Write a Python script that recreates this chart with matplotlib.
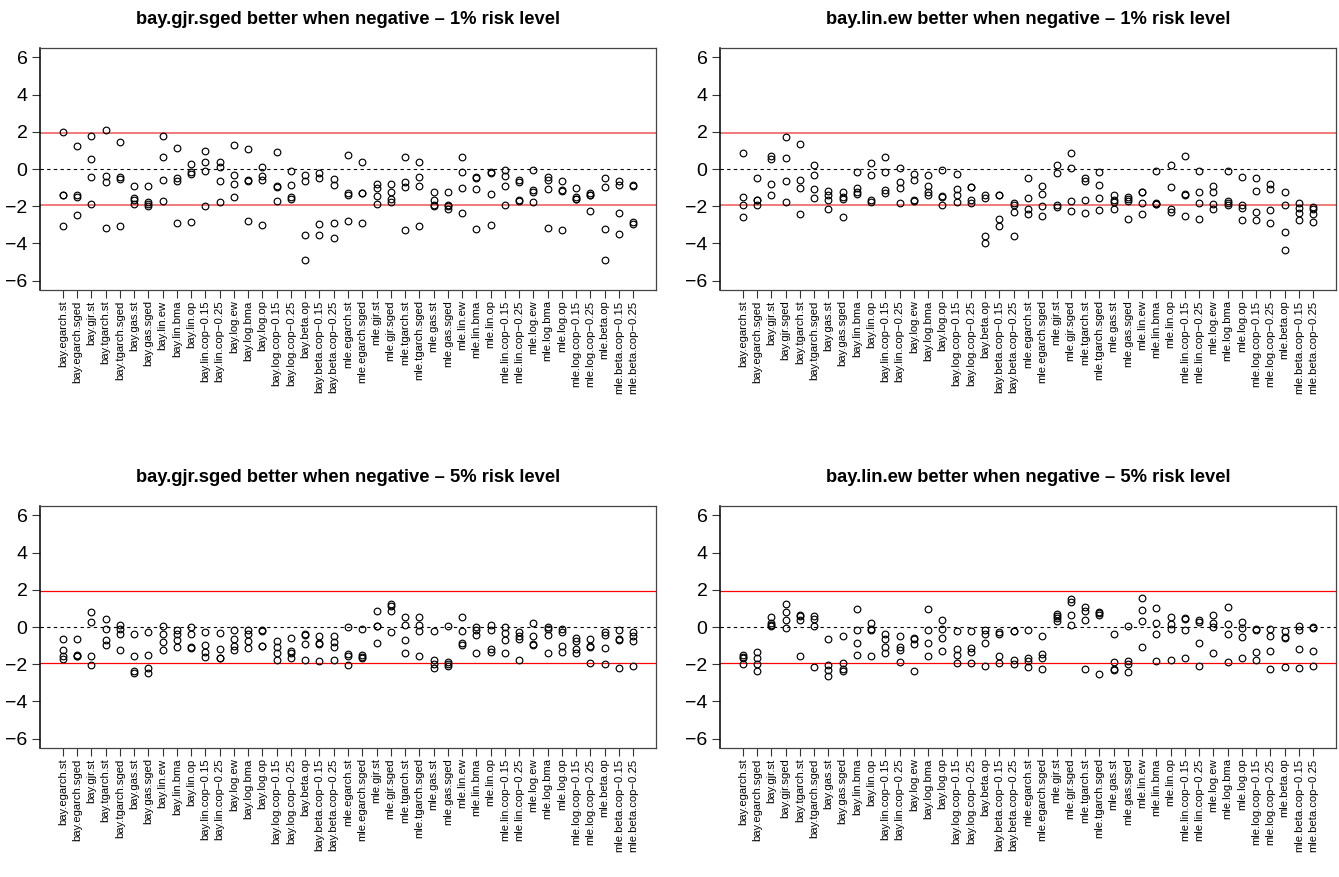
import matplotlib
matplotlib.use("Agg")
import matplotlib.pyplot as plt

plt.rcParams['font.family'] = ['Liberation Sans', 'DejaVu Sans']

all_models = ["bay.egarch.st", "bay.egarch.sged", "bay.gjr.st", "bay.gjr.sged",
              "bay.tgarch.st", "bay.tgarch.sged", "bay.gas.st", "bay.gas.sged",
              "bay.lin.ew", "bay.lin.bma", "bay.lin.op", "bay.lin.cop−0.15",
              "bay.lin.cop−0.25", "bay.log.ew", "bay.log.bma", "bay.log.op",
              "bay.log.cop−0.15", "bay.log.cop−0.25", "bay.beta.op",
              "bay.beta.cop−0.15", "bay.beta.cop−0.25", "mle.egarch.st",
              "mle.egarch.sged", "mle.gjr.st", "mle.gjr.sged", "mle.tgarch.st",
              "mle.tgarch.sged", "mle.gas.st", "mle.gas.sged", "mle.lin.ew",
              "mle.lin.bma", "mle.lin.op", "mle.lin.cop−0.15", "mle.lin.cop−0.25",
              "mle.log.ew", "mle.log.bma", "mle.log.op", "mle.log.cop−0.15",
              "mle.log.cop−0.25", "mle.beta.op", "mle.beta.cop−0.15",
              "mle.beta.cop−0.25"]

labels_gjr = [m for m in all_models if m != "bay.gjr.sged"]
labels_lin = [m for m in all_models if m != "bay.lin.ew"]

# test statistics, 4 series per model
gjr_1 = [[1.98, -1.42, -1.42, -3.08], [1.26, -1.37, -1.48, -2.47], [1.77, 0.52, -0.41, -1.86],
         [2.07, -0.40, -0.70, -3.19], [1.44, -0.43, -0.54, -3.08], [-0.94, -1.57, -1.69, -1.86],
         [-0.92, -1.75, -1.86, -1.98], [1.78, 0.67, -0.61, -1.73], [1.14, -0.50, -0.67, -2.92],
         [0.25, -0.18, -0.25, -2.86], [0.99, 0.36, -0.09, -2.00], [0.38, 0.13, -0.63, -1.77],
         [1.30, -0.34, -0.83, -1.50], [1.05, -0.61, -0.67, -2.77], [0.09, -0.38, -0.59, -3.03],
         [0.92, -0.90, -0.95, -1.71], [-0.13, -0.88, -1.48, -1.59], [-0.32, -0.65, -3.53, -4.88],
         [-0.20, -0.47, -2.95, -3.53], [-0.52, -0.88, -2.90, -3.71], [0.74, -1.28, -1.42, -2.79],
         [0.38, -1.28, -1.30, -2.92], [-0.81, -1.03, -1.44, -1.86], [-0.81, -1.23, -1.59, -1.77],
         [0.65, -0.72, -0.97, -3.28], [0.38, -0.45, -0.90, -3.08], [-1.24, -1.66, -1.91, -2.00],
         [-1.23, -1.91, -1.98, -2.16], [0.65, -0.18, -1.01, -2.36], [-0.41, -0.47, -1.08, -3.24],
         [-0.18, -0.22, -1.33, -3.03], [-0.05, -0.40, -0.90, -1.93], [-0.59, -0.70, -1.66, -1.73],
         [-0.07, -1.14, -1.24, -1.77], [-0.43, -0.58, -1.08, -3.15], [-0.63, -1.15, -1.17, -3.30],
         [-1.03, -1.51, -1.60, -1.62], [-1.30, -1.41, -1.42, -2.25], [-0.49, -0.97, -3.21, -4.88],
         [-0.63, -0.88, -2.36, -3.48], [-0.88, -0.92, -2.86, -2.97]]

lin_1 = [[0.86, -1.53, -1.93, -2.56], [-0.47, -1.64, -1.69, -1.91], [0.70, 0.56, -0.79, -1.39],
         [1.73, 0.61, -0.67, -1.77], [1.32, -0.61, -1.03, -2.43], [0.23, -0.32, -1.05, -1.57],
         [-1.19, -1.42, -1.66, -2.14], [-1.24, -1.53, -1.62, -2.59], [-0.18, -1.01, -1.26, -1.35],
         [0.34, -0.31, -1.69, -1.77], [0.67, -0.16, -1.15, -1.28], [0.05, -0.72, -1.03, -1.80],
         [-0.27, -0.59, -1.66, -1.73], [-0.34, -0.94, -1.21, -1.37], [-0.05, -1.44, -1.53, -1.95],
         [-0.25, -1.06, -1.37, -1.77], [-0.95, -0.99, -1.69, -1.80], [-1.41, -1.57, -3.59, -3.95],
         [-1.39, -1.41, -2.68, -3.08], [-1.80, -1.91, -2.32, -3.60], [-0.47, -1.55, -2.16, -2.41],
         [-0.94, -1.33, -2.00, -2.52], [0.23, -0.20, -1.96, -2.04], [0.88, 0.04, -1.71, -2.25],
         [-0.50, -0.63, -1.66, -2.34], [-0.18, -0.88, -1.57, -2.20], [-1.42, -1.69, -1.75, -2.13],
         [-1.50, -1.62, -1.73, -2.67], [-1.21, -1.26, -1.82, -2.40], [-0.09, -1.80, -1.86, -1.86],
         [0.23, -0.99, -2.13, -2.32], [0.70, -1.32, -1.41, -2.54], [-0.09, -1.21, -1.80, -2.67],
         [-0.90, -1.26, -1.86, -2.14], [-0.11, -1.73, -1.80, -1.91], [-0.41, -1.91, -2.09, -2.72],
         [-0.49, -1.17, -2.29, -2.76], [-0.81, -1.08, -2.22, -2.88], [-1.23, -1.95, -3.37, -4.34],
         [-1.80, -2.07, -2.34, -2.76], [-2.02, -2.16, -2.41, -2.83]]

gjr_5 = [[-0.65, -1.22, -1.55, -1.73], [-0.67, -1.53, -1.56, -1.58], [0.78, 0.25, -1.55, -2.05],
         [0.44, -0.13, -0.69, -0.98], [0.09, -0.11, -0.38, -1.24], [-0.40, -1.58, -2.36, -2.45],
         [-0.29, -1.49, -2.20, -2.47], [0.05, -0.36, -0.82, -1.24], [-0.15, -0.36, -0.69, -1.07],
         [0.00, -0.36, -1.07, -1.13], [-0.25, -0.96, -1.33, -1.60], [-0.31, -1.18, -1.64, -1.69],
         [-0.15, -0.67, -1.02, -1.22], [-0.15, -0.36, -0.75, -1.11], [-0.15, -0.20, -1.00, -1.04],
         [-0.76, -1.05, -1.42, -1.75], [-0.60, -1.31, -1.38, -1.64], [-0.38, -0.44, -0.89, -1.78],
         [-0.49, -0.87, -0.91, -1.85], [-0.47, -0.78, -1.05, -1.78], [-0.02, -1.44, -1.58, -2.02],
         [-0.13, -1.53, -1.60, -1.64], [0.87, 0.07, 0.04, -0.87], [1.22, 1.15, 0.84, -0.27],
         [0.55, 0.11, -0.69, -1.40], [0.53, 0.11, -0.20, -1.55], [-0.24, -1.76, -1.98, -2.22],
         [0.05, -1.89, -2.00, -2.07], [0.53, -0.24, -0.85, -0.98], [-0.02, -0.16, -0.44, -1.38],
         [0.11, -0.15, -1.16, -1.35], [0.00, -0.31, -0.69, -1.42], [-0.29, -0.49, -0.67, -1.75],
         [0.24, -0.51, -0.91, -0.96], [0.02, -0.11, -0.44, -1.40], [-0.13, -0.27, -1.04, -1.33],
         [-0.60, -0.75, -1.20, -1.42], [-0.62, -1.02, -1.07, -1.91], [-0.25, -0.44, -1.11, -1.98],
         [-0.18, -0.67, -0.71, -2.22], [-0.25, -0.49, -0.76, -2.07]]

lin_5 = [[-1.53, -1.60, -1.69, -1.98], [-1.35, -1.67, -2.00, -2.36], [0.53, 0.22, 0.11, 0.04],
         [1.22, 0.78, 0.36, -0.07], [0.67, 0.58, 0.36, -1.58], [0.60, 0.42, 0.07, -2.16],
         [-0.64, -2.02, -2.31, -2.62], [-0.51, -1.95, -2.24, -2.38], [0.95, -0.15, -0.87, -1.53],
         [0.24, -0.13, -0.18, -1.55], [-0.40, -0.64, -1.05, -1.42], [-0.49, -1.05, -1.25, -1.87],
         [-0.58, -0.64, -0.91, -2.38], [0.95, -0.18, -0.85, -1.55], [0.38, -0.09, -0.60, -1.29],
         [-0.24, -1.16, -1.51, -1.96], [-0.24, -1.15, -1.36, -1.96], [-0.15, -0.35, -0.84, -2.07],
         [-0.25, -0.35, -1.56, -1.96], [-0.22, -0.24, -1.76, -1.98], [-0.16, -1.67, -1.82, -2.16],
         [-0.49, -1.45, -1.69, -2.27], [0.71, 0.60, 0.49, 0.33], [1.49, 1.36, 0.67, 0.13],
         [1.05, 0.85, 0.35, -2.25], [0.78, 0.73, 0.67, -2.51], [-0.38, -1.89, -2.25, -2.29],
         [0.04, -1.85, -2.00, -2.44], [1.58, 0.89, 0.33, -1.07], [1.04, 0.20, -0.38, -1.82],
         [0.56, 0.15, -0.11, -1.76], [0.49, 0.44, -0.15, -1.64], [0.36, 0.25, -0.85, -2.09],
         [0.62, 0.20, 0.00, -1.42], [1.07, 0.15, -0.40, -1.89], [0.29, -0.04, -0.56, -1.64],
         [-0.11, -0.16, -1.36, -1.75], [-0.11, -0.49, -1.31, -2.27], [-0.24, -0.55, -0.60, -2.15],
         [0.07, -0.18, -1.18, -2.22], [-0.02, -0.05, -1.31, -2.07]]

titles = ["bay.gjr.sged better when negative – 1% risk level",
          "bay.lin.ew better when negative – 1% risk level",
          "bay.gjr.sged better when negative – 5% risk level",
          "bay.lin.ew better when negative – 5% risk level"]

W, H = 1339, 877
fig = plt.figure(figsize=(W / 100, H / 100), dpi=100)

panels = [(gjr_1, labels_gjr, titles[0], 40, 48, '#f07070', 1.3),
          (lin_1, labels_lin, titles[1], 720, 48, '#f07070', 1.3),
          (gjr_5, labels_gjr, titles[2], 40, 506, 'red', 0.9),
          (lin_5, labels_lin, titles[3], 720, 506, 'red', 0.9)]

for vals, labs, title, left, top, rcol, rlw in panels:
    ax = fig.add_axes([left / W, 1 - (top + 242) / H, 616 / W, 242 / H])
    n = len(labs)
    xs = []
    ys = []
    for i, col in enumerate(vals):
        for v in col:
            xs.append(i + 1)
            ys.append(v)
    ax.axhline(1.96, color=rcol, lw=rlw, zorder=1)
    ax.axhline(-1.96, color=rcol, lw=rlw, zorder=1)
    ax.axhline(0, color='black', lw=0.8, ls=(0, (3, 3)), zorder=1)
    ax.plot(xs, ys, 'o', mfc='none', mec='black', ms=4.8, mew=0.85, zorder=2)
    ax.set_xlim(-0.6, n + 1.6)
    ax.set_ylim(-6.5, 6.5)
    ax.set_yticks([-6, -4, -2, 0, 2, 4, 6])
    ax.set_yticklabels(['−6', '−4', '−2', '0', '2', '4', '6'], fontsize=14)
    ax.set_xticks(range(1, n + 1))
    ax.set_xticklabels(labs, rotation=90, fontsize=8.1)
    ax.tick_params(axis='both', direction='out', length=5.5, width=0.8, color='#333333')
    ax.tick_params(axis='x', pad=2)
    for s in ax.spines.values():
        s.set_color('#444444')
        s.set_linewidth(0.9)
    ax.spines['left'].set_color('black')
    ax.spines['left'].set_linewidth(1.1)
    ax.set_title(title, fontsize=13.2, fontweight='bold', pad=17)

fig.savefig("out.png", dpi=100)
